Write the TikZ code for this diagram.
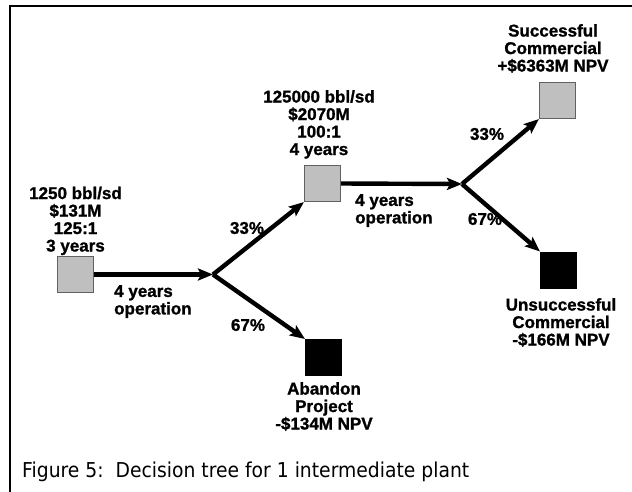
\documentclass[tikz,border=0pt]{standalone}
\usepackage{fontspec}
\setmainfont{Liberation Sans}[BoldFeatures={FakeBold=1.2}]
\newfontfamily\capfont{DejaVu Sans}[FakeStretch=0.915]
\usetikzlibrary{arrows.meta}

\begin{document}
\begin{tikzpicture}[x=1pt,y=-1pt,
  graybox/.style={draw=black!62, line width=1.2pt, fill=black!25,
    minimum size=36pt, inner sep=0pt},
  blackbox/.style={draw=black, line width=1pt, fill=black,
    minimum size=36pt, inner sep=0pt},
  lbl/.style={font=\bfseries\fontsize{17}{17.5}\selectfont,
    align=center, inner sep=0pt},
  pct/.style={font=\bfseries\fontsize{17}{17.5}\selectfont, inner sep=0pt},
  link/.style={line width=4.4pt, black,
    -{Stealth[length=15pt,width=12pt,inset=3pt]}},
  frameline/.style={line width=2pt, black}
]
\useasboundingbox (0,0) rectangle (632,491);

% outer frame (left and top edges)
\coordinate (fb) at (10,492);
\coordinate (fc) at (10,6);
\coordinate (fr) at (633,6);
\draw[frameline] (fb) -- (fc) -- (fr);

% decision boxes and outcomes
\node[graybox]  (pilot)  at (75.5,274.5) {};
\node[graybox]  (inter)  at (322.5,183.5) {};
\node[graybox]  (succ)   at (557.5,100.5) {};
\node[blackbox] (unsucc) at (558.5,270) {};
\node[blackbox] (aband)  at (323.5,357.5) {};

% chance junctions
\coordinate (j1) at (213,274.5);
\coordinate (j2) at (462,184);

% box descriptions
\node[lbl, anchor=north] (pilottxt)  at (75.5,186.5) {1250 bbl/sd\\\$131M\\125:1\\3 years};
\node[lbl, anchor=north] (intertxt)  at (319,90) {125000 bbl/sd\\\$2070M\\100:1\\4 years};
\node[lbl, anchor=north] (succtxt)   at (553,24) {Successful\\Commercial\\+\$6363M NPV};
\node[lbl, anchor=north] (unsucctxt) at (561,298) {Unsuccessful\\Commercial\\-\$166M NPV};
\node[lbl, anchor=north] (abandtxt)  at (324,382) {Abandon\\Project\\-\$134M NPV};

% connectors
\draw[link] (pilot.east) -- (j1);
\draw[link] (j1) -- (inter.south west);
\draw[link] (j1) -- (aband.north west);
\draw[link] (inter.east) -- (j2);
\draw[link] (j2) -- (succ.south west);
\draw[link] (j2) -- (unsucc.north west);

% connector labels
\node[lbl, align=left, anchor=north west] (op1) at (114,285) {4 years\\operation};
\node[lbl, align=left, anchor=north west] (op2) at (355,194) {4 years\\operation};
\node[pct] (p1up)   at (247,228) {33\%};
\node[pct] (p1down) at (248,325) {67\%};
\node[pct] (p2up)   at (487,134) {33\%};
\node[pct] (p2down) at (485,219) {67\%};

% caption
\node[font=\capfont\fontsize{20.5}{24}\selectfont, anchor=base west, inner sep=0pt]
  (caption) at (22,477) {Figure 5:\ \ Decision tree for 1 intermediate plant};
\end{tikzpicture}
\end{document}
